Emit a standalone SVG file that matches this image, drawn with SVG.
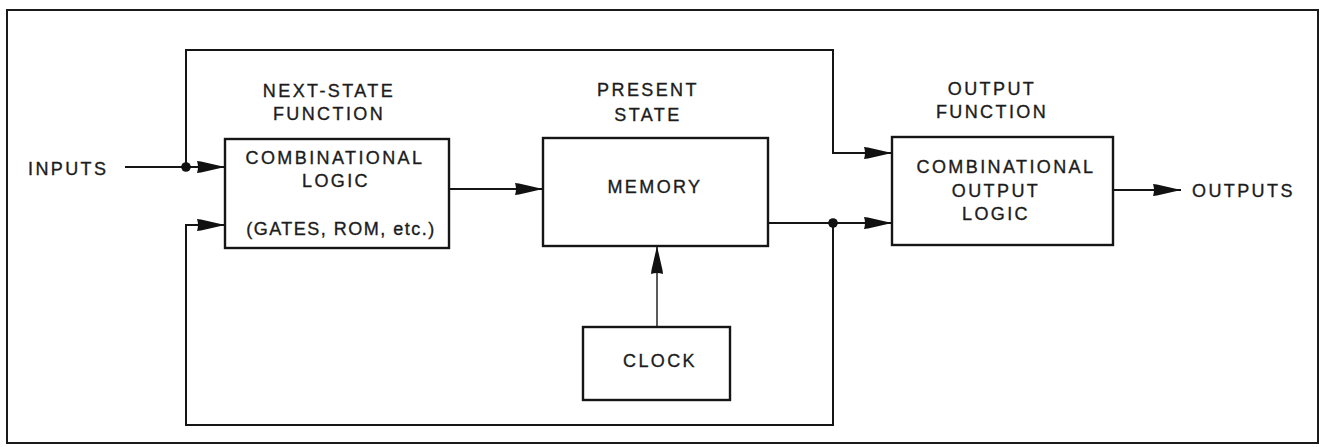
<svg xmlns="http://www.w3.org/2000/svg" width="1324" height="447" viewBox="0 0 1324 447">
<style>
  .box { fill: #ffffff; stroke: #151515; stroke-width: 2.4; }
  .wire { fill: none; stroke: #151515; stroke-width: 2; }
  .thin { fill: none; stroke: #151515; stroke-width: 1.4; }
  .lbl { font-family: "Liberation Sans", Arial, sans-serif; font-size: 18px; fill: #1c1c1c; stroke: #1c1c1c; stroke-width: 0.35; letter-spacing: 2.4px; text-anchor: middle; }
  .start { text-anchor: start; }
  .dot { fill: #111; }
</style>
<defs>
  <marker id="arr" markerUnits="userSpaceOnUse" markerWidth="30" markerHeight="14" viewBox="0 -7 30 14" refX="28" refY="0" orient="auto">
    <path d="M0,-6 L4,-5.5 L28,0 L4,5.5 L0,6 Q2,0 0,-6 Z" fill="#111"/>
  </marker>
</defs>
<rect x="0" y="0" width="1324" height="447" fill="#ffffff"/>
<rect id="frame" x="7" y="10" width="1311" height="433" fill="none" stroke="#1a1a1a" stroke-width="2"/>

<g id="connectors">
  <path class="wire" d="M125,167 H225" marker-end="url(#arr)"/>
  <path class="wire" d="M186,167 V50 H833 V153 H892" marker-end="url(#arr)"/>
  <path class="wire" d="M833,223 V425 H186 V225 H225" marker-end="url(#arr)"/>
  <path class="wire" d="M768,223 H892" marker-end="url(#arr)"/>
  <path class="wire" d="M449,189 H543" marker-end="url(#arr)"/>
  <path class="thin" d="M657,327 V246" marker-end="url(#arr)"/>
  <path class="wire" d="M1113,190 H1181" marker-end="url(#arr)"/>
  <circle class="dot" cx="186" cy="167" r="4.8"/>
  <circle class="dot" cx="833" cy="223" r="4.8"/>
</g>

<g id="inputs">
  <text class="lbl start" x="28" y="175">INPUTS</text>
</g>

<g id="next-state">
  <text class="lbl" x="329" y="97">NEXT-STATE</text>
  <text class="lbl" x="329" y="120">FUNCTION</text>
  <rect class="box" x="225" y="139" width="224" height="109"/>
  <text class="lbl" x="335" y="164">COMBINATIONAL</text>
  <text class="lbl" x="336" y="187">LOGIC</text>
  <text class="lbl" x="341" y="235" style="letter-spacing:1.5px">(GATES, ROM, etc.)</text>
</g>

<g id="memory">
  <text class="lbl" x="648" y="96">PRESENT</text>
  <text class="lbl" x="648" y="121">STATE</text>
  <rect class="box" x="543" y="138" width="225" height="108"/>
  <text class="lbl" x="655" y="193">MEMORY</text>
</g>

<g id="clock">
  <rect class="box" x="583" y="327" width="147" height="73"/>
  <text class="lbl" x="660" y="367">CLOCK</text>
</g>

<g id="output-logic">
  <text class="lbl" x="992" y="95">OUTPUT</text>
  <text class="lbl" x="992" y="118">FUNCTION</text>
  <rect class="box" x="892" y="137" width="221" height="108"/>
  <text class="lbl" x="1006" y="173">COMBINATIONAL</text>
  <text class="lbl" x="996" y="197">OUTPUT</text>
  <text class="lbl" x="996" y="220">LOGIC</text>
</g>

<g id="outputs">
  <text class="lbl start" x="1192" y="197">OUTPUTS</text>
</g>
</svg>
